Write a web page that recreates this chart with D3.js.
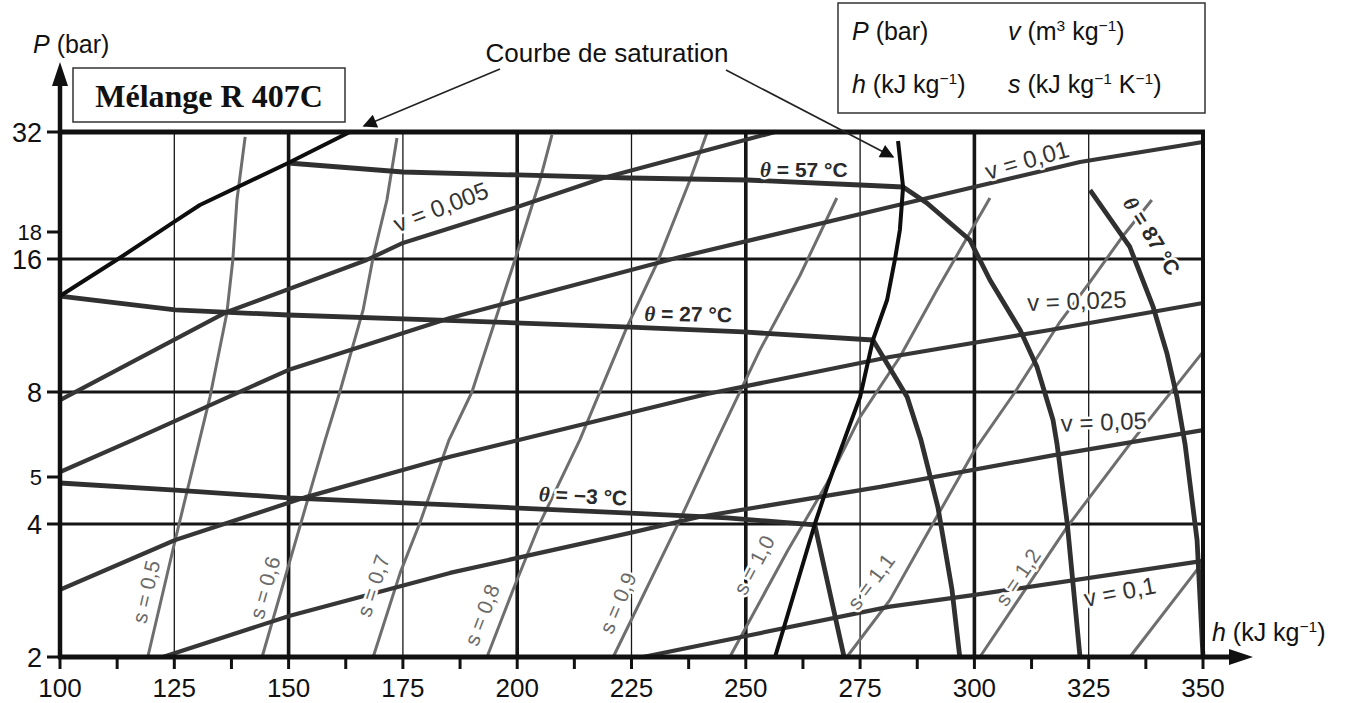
<!DOCTYPE html>
<html>
<head>
<meta charset="utf-8">
<script src="https://cdn.jsdelivr.net/npm/d3@7"></script>
<style>
  body { margin: 0; background: #fff; }
  svg { font-family: "Liberation Sans", Arial, sans-serif; }
</style>
</head>
<body>
<svg id="chart" width="1347" height="703"></svg>
<script>
// ---- data (h in kJ/kg, P in bar) ----
const hTicks = [100, 125, 150, 175, 200, 225, 250, 275, 300, 325, 350];
const hMinorTicks = [112.5, 137.5, 162.5, 187.5, 212.5, 237.5, 262.5, 287.5, 312.5, 337.5];
const pTicks = [2, 4, 5, 8, 16, 18, 32];
const pGrid = [4, 8, 16];

// saturation curve
const satLiquid = [[100, 13.19], [112.7, 16], [125.2, 19.17], [130.6, 21.02], [149.9, 26.77], [163.4, 32]];
const satVapor = [[256.4, 2], [265.1, 4], [267.8, 4.77], [272.1, 6.38], [275.0, 7.78], [277.8, 10.49],
  [280.9, 12.92], [282.6, 15.92], [283.7, 18.21], [284.4, 23.32], [283.3, 30.39]];

// isotherms
const isoM3 = [[100, 4.86], [125.2, 4.70], [149.9, 4.53], [185.3, 4.38], [224.7, 4.21], [245.9, 4.12],
  [265.1, 3.98], [271.5, 2]];
const iso27 = [[100, 13.19], [125.2, 12.27], [149.9, 11.95], [183.1, 11.64], [224.7, 11.22], [249.4, 10.94],
  [277.8, 10.49], [285.3, 7.78], [288.3, 6.14], [292.0, 4.34], [295.1, 2.84], [296.8, 2]];
const iso57 = [[149.9, 26.77], [175.0, 25.42], [200.0, 24.99], [224.7, 24.56], [250.3, 24.28], [275.0, 23.59],
  [284.4, 23.32], [289.6, 21.27], [299.0, 17.38], [303.4, 14.34], [310.0, 11.05], [313.7, 9.11],
  [317.2, 6.85], [318.1, 5.97], [320.3, 4.02], [323.1, 2]];
const iso87 = [[325.3, 22.92], [334.0, 16.86], [339.1, 12.46], [342.1, 9.80], [344.3, 7.78], [346.1, 5.97],
  [348.7, 3.68], [350, 2]];

// isochores
const v005 = [[100, 7.65], [136.5, 12.14], [167.1, 15.92], [175.0, 17.16], [200.0, 20.78], [218.8, 24.56],
  [240.0, 28.53], [256.4, 32]];
const v01 = [[100, 5.14], [116.0, 6.14], [149.9, 8.97], [185.3, 11.76], [235.6, 16.14], [281.5, 20.78],
  [323.1, 26.93], [350, 30.21]];
const v025 = [[100, 2.84], [125.2, 3.68], [154.0, 4.55], [185.3, 5.59], [241.5, 7.91], [281.5, 9.60],
  [316.5, 11.05], [350, 12.72]];
const v05 = [[122.5, 2], [150.3, 2.48], [185.3, 3.10], [224.7, 3.82], [240.0, 4.14], [279.4, 4.77],
  [316.5, 5.62], [350, 6.48]];
const v1 = [[227.5, 2], [281.5, 2.60], [299.7, 2.76], [350, 3.30]];

// isentropes
const s05 = [[119.2, 2], [125.2, 3.68], [130.0, 5.81], [132.8, 7.78], [136.5, 12.08], [137.8, 15.92], [138.7, 21.64], [140.5, 31.11]];
const s06 = [[144.2, 2], [149.9, 3.20], [158.0, 6.14], [161.2, 8], [166.3, 12.27], [168.5, 16.14], [171.5, 21.64], [173.7, 30.92]];
const s07 = [[168.5, 2], [174.4, 3.10], [178.7, 4.02], [185.1, 6.14], [190.1, 8], [200.2, 16.64], [205.0, 24.28], [207.6, 31.46]];
const s08 = [[193.4, 2], [199.1, 2.84], [205.0, 4.02], [213.7, 6.14], [224.0, 11.22], [230.6, 15.67], [237.8, 24.28], [241.5, 31.82]];
const s09 = [[221.0, 2], [235.6, 4.08], [243.7, 6.14], [253.1, 9.96], [261.9, 14.72], [269.9, 21.89]];
const s10 = [[246.5, 2], [259.2, 3.49], [267.8, 4.86], [275.0, 6.97], [283.7, 9.60], [291.8, 13.61], [303.4, 21.89]];
const s11 = [[272.1, 2], [281.5, 2.69], [291.4, 4.08], [300.1, 5.81], [308.9, 8], [318.7, 11.52], [325.3, 14.20], [332.3, 17.61], [338.8, 21.64]];
const s12 = [[301.2, 2], [320.3, 3.94], [334.7, 6.14], [350, 9.86]];
const s13 = [[334.0, 2], [350, 3.28]];

const isotherms = [isoM3, iso27, iso57, iso87];
const isochores = [v005, v01, v025, v05, v1];
const isentropes = [s05, s06, s07, s08, s09, s10, s11, s12, s13];

// curve labels: text, anchor (h, P)
const thetaLabels = [["57", 262.7, 25.7], ["27", 237.4, 12.01], ["\u22123", 214.4, 4.57], ["87", 338.8, 17.69]];
const vLabels = [["0,005", 183.3, 20.78], ["0,01", 311.5, 27.24], ["0,025", 322.4, 12.86], ["0,05", 328.3, 6.78], ["0,1", 331.8, 2.81]];
const sLabels = [["0,5", 118.8, 2.81], ["0,6", 144.8, 2.87], ["0,7", 168.5, 2.90], ["0,8", 192.3, 2.49],
  ["0,9", 222.0, 2.65], ["1,0", 251.8, 3.23], ["1,1", 277.4, 2.96], ["1,2", 309.5, 3.03]];

// ---- drawing ----
const svg = d3.select("#chart");
const x = d3.scaleLinear().domain([100, 350]).range([60, 1203]);
const y = d3.scaleLog().domain(pTicks).range([657, 524, 477, 392, 259, 232, 132]);
const line = d3.line().x(d => x(d[0])).y(d => y(d[1]));

// grid
svg.append("g").selectAll("line").data(hTicks.slice(1, -1)).join("line")
  .attr("x1", d => x(d)).attr("x2", d => x(d))
  .attr("y1", y(2)).attr("y2", y(32))
  .attr("stroke", "#151515")
  .attr("stroke-width", d => d % 50 === 0 ? 3.6 : 1.3);

svg.append("g").selectAll("line").data(pGrid).join("line")
  .attr("x1", x(100)).attr("x2", x(350))
  .attr("y1", d => y(d)).attr("y2", d => y(d))
  .attr("stroke", "#151515").attr("stroke-width", 3);

// curves
svg.append("g").selectAll("path").data(isentropes).join("path")
  .attr("d", line).attr("fill", "none")
  .attr("stroke", "#6e6e6e").attr("stroke-width", 3).attr("stroke-linejoin", "round");

svg.append("g").selectAll("path").data(isochores).join("path")
  .attr("d", line).attr("fill", "none")
  .attr("stroke", "#363636").attr("stroke-width", 4.2).attr("stroke-linejoin", "round");

svg.append("g").selectAll("path").data(isotherms).join("path")
  .attr("d", line).attr("fill", "none")
  .attr("stroke", "#303030").attr("stroke-width", 4.8).attr("stroke-linejoin", "round");

svg.append("g").selectAll("path").data([satLiquid, satVapor]).join("path")
  .attr("d", line).attr("fill", "none")
  .attr("stroke", "#0e0e0e").attr("stroke-width", 4).attr("stroke-linejoin", "round");

// frame: top at 32 bar, right at 350
svg.append("line").attr("x1", x(100)).attr("x2", x(350) + 2).attr("y1", y(32)).attr("y2", y(32))
  .attr("stroke", "#111").attr("stroke-width", 5);
svg.append("line").attr("x1", x(350)).attr("x2", x(350)).attr("y1", y(32)).attr("y2", y(2))
  .attr("stroke", "#111").attr("stroke-width", 4);

// axes with arrows
svg.append("line").attr("x1", x(100)).attr("x2", x(100)).attr("y1", y(2) + 2).attr("y2", 80)
  .attr("stroke", "#111").attr("stroke-width", 4.5);
svg.append("path").attr("d", `M${x(100)},62 L${x(100) - 8},86 L${x(100) + 8},86 Z`).attr("fill", "#111");
svg.append("line").attr("x1", x(100) - 2).attr("x2", 1236).attr("y1", y(2)).attr("y2", y(2))
  .attr("stroke", "#111").attr("stroke-width", 5);
svg.append("path").attr("d", `M1253,${y(2)} L1229,${y(2) - 8} L1229,${y(2) + 8} Z`).attr("fill", "#111");

// ticks
svg.append("g").selectAll("line").data(hTicks.concat(hMinorTicks)).join("line")
  .attr("x1", d => x(d)).attr("x2", d => x(d))
  .attr("y1", y(2)).attr("y2", y(2) + 12)
  .attr("stroke", "#111").attr("stroke-width", 3);
svg.append("g").selectAll("text").data(hTicks).join("text")
  .attr("x", d => x(d)).attr("y", 697)
  .attr("text-anchor", "middle").attr("font-size", 26).attr("fill", "#111")
  .text(d => d);

svg.append("g").selectAll("line").data(pTicks).join("line")
  .attr("x1", x(100) - 13).attr("x2", x(100))
  .attr("y1", d => y(d)).attr("y2", d => y(d))
  .attr("stroke", "#111").attr("stroke-width", 3);
svg.append("g").selectAll("text").data(pTicks).join("text")
  .attr("x", 42).attr("y", d => y(d))
  .attr("dy", "0.36em")
  .attr("text-anchor", "end")
  .attr("font-size", d => (d === 5 || d === 18) ? 22 : 27).attr("fill", "#111")
  .text(d => d);

// rich text helper: parts = [text, style] with style "i" italic, "sup" superscript, "th" theta
function rich(sel, parts, size) {
  parts.forEach(([t, st]) => {
    const ts = sel.append("tspan").text(t);
    if (st === "i") ts.attr("font-style", "italic");
    if (st === "th") ts.attr("font-style", "italic").attr("font-family", "Liberation Serif, serif");
    if (st === "sup") ts.attr("font-size", size * 0.62).attr("dy", -size * 0.38);
    if (st === "unsup") ts.attr("dy", size * 0.38);
  });
  return sel;
}

// axis titles
rich(svg.append("text").attr("x", 33).attr("y", 53).attr("font-size", 25).attr("fill", "#111"),
  [["P", "i"], [" (bar)"]], 25);
rich(svg.append("text").attr("x", 1212).attr("y", 641).attr("font-size", 25).attr("fill", "#111"),
  [["h", "i"], [" (kJ kg"], ["\u22121", "sup"], [")", "unsup"]], 25);

// title box
svg.append("rect").attr("x", 73).attr("y", 68).attr("width", 272).attr("height", 54)
  .attr("fill", "#fff").attr("stroke", "#333").attr("stroke-width", 1.5);
svg.append("text").attr("x", 209).attr("y", 107).attr("text-anchor", "middle")
  .attr("font-family", "Liberation Serif, 'Times New Roman', serif").attr("font-weight", "bold")
  .attr("font-size", 32).attr("fill", "#111").text("Mélange R 407C");

// units box
svg.append("rect").attr("x", 838).attr("y", 3).attr("width", 367).attr("height", 110)
  .attr("fill", "#fff").attr("stroke", "#333").attr("stroke-width", 1.5);
const lg = 25;
rich(svg.append("text").attr("x", 852).attr("y", 40).attr("font-size", lg).attr("fill", "#111"),
  [["P", "i"], [" (bar)"]], lg);
rich(svg.append("text").attr("x", 1008).attr("y", 40).attr("font-size", lg).attr("fill", "#111"),
  [["v", "i"], [" (m"], ["3", "sup"], [" kg", "unsup"], ["\u22121", "sup"], [")", "unsup"]], lg);
rich(svg.append("text").attr("x", 852).attr("y", 93).attr("font-size", lg).attr("fill", "#111"),
  [["h", "i"], [" (kJ kg"], ["\u22121", "sup"], [")", "unsup"]], lg);
rich(svg.append("text").attr("x", 1008).attr("y", 93).attr("font-size", lg).attr("fill", "#111"),
  [["s", "i"], [" (kJ kg"], ["\u22121", "sup"], [" K", "unsup"], ["\u22121", "sup"], [")", "unsup"]], lg);

// saturation annotation
svg.append("defs").append("marker").attr("id", "ah").attr("viewBox", "0 0 10 10")
  .attr("refX", 9).attr("refY", 5).attr("markerWidth", 18).attr("markerHeight", 14)
  .attr("markerUnits", "userSpaceOnUse").attr("orient", "auto")
  .append("path").attr("d", "M0,0 L10,5 L0,10 Z").attr("fill", "#111");
svg.append("text").attr("x", 607).attr("y", 62).attr("text-anchor", "middle")
  .attr("font-size", 26).attr("fill", "#111").text("Courbe de saturation");
const satTop = satLiquid[satLiquid.length - 1];
svg.append("line").attr("x1", 500).attr("y1", 69)
  .attr("x2", x(satTop[0]) + 14).attr("y2", y(satTop[1]) - 6)
  .attr("stroke", "#222").attr("stroke-width", 1.6).attr("marker-end", "url(#ah)");
const vapTop = satVapor[satVapor.length - 1];
svg.append("line").attr("x1", 726).attr("y1", 70)
  .attr("x2", x(vapTop[0]) - 5).attr("y2", y(vapTop[1]) + 16)
  .attr("stroke", "#222").attr("stroke-width", 1.6).attr("marker-end", "url(#ah)");

// curve labels with white halo
function curveLabel(parts, h, p, rot, size, color, weight) {
  const t = svg.append("text")
    .attr("transform", `translate(${x(h)},${y(p)}) rotate(${rot})`)
    .attr("text-anchor", "middle").attr("dy", "0.35em")
    .attr("font-size", size).attr("fill", color).attr("font-weight", weight || "normal")
    .attr("stroke", "#fff").attr("stroke-width", 5).attr("paint-order", "stroke")
    .attr("stroke-linejoin", "round");
  rich(t, parts, size);
}
const thetaRot = [0, 1, 3, 58];
thetaLabels.forEach(([v, h, p], i) =>
  curveLabel([["\u03b8", "th"], [` = ${v} \u00b0C`]], h, p, thetaRot[i], 21, "#2a2a2a", "bold"));
const vRot = [-21, -16, -2, -2, -11];
vLabels.forEach(([v, h, p], i) => curveLabel([[`v = ${v}`]], h, p, vRot[i], 24, "#333"));
const sRot = [-77, -74, -72, -69, -67, -62, -53, -56];
sLabels.forEach(([v, h, p], i) => curveLabel([[`s = ${v}`]], h, p, sRot[i], 21, "#6a6a6a"));
</script>
</body>
</html>
